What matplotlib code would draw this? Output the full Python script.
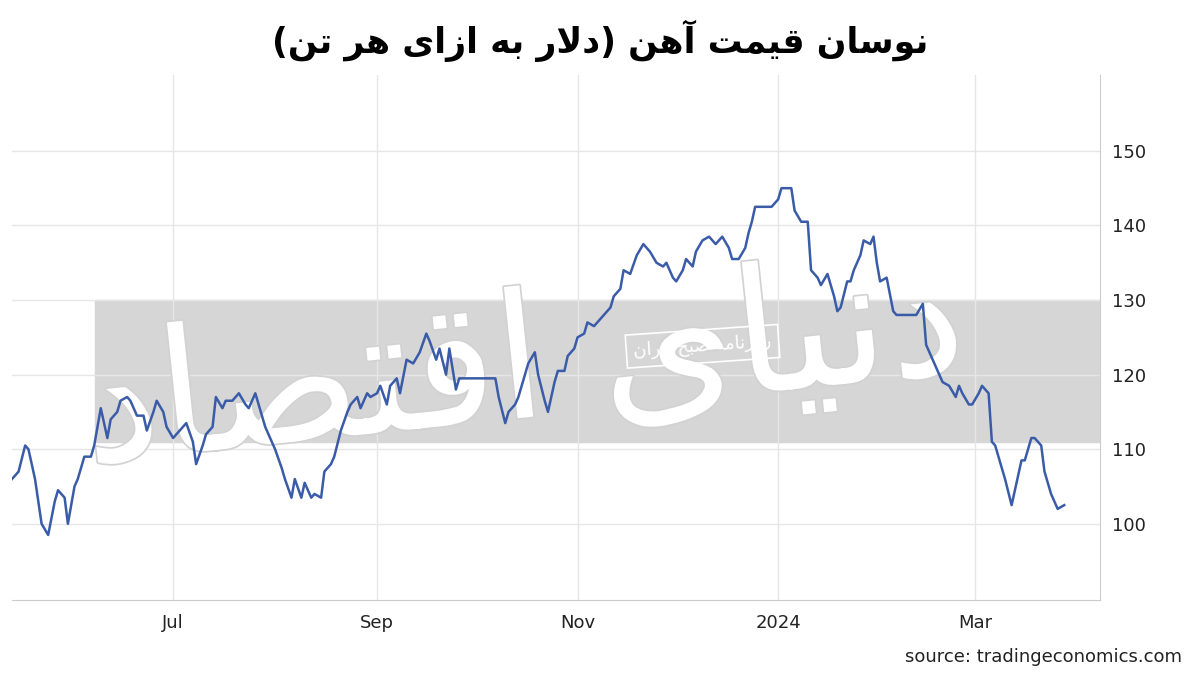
import datetime as dt
import matplotlib

matplotlib.use("Agg")
import matplotlib.pyplot as plt
import matplotlib.patheffects as pe

# iron ore price, USD per tonne
start_date = dt.date(2023, 5, 13)
day_offsets = [
    0, 2, 4, 5, 7, 9, 11, 13, 14, 16, 17, 19, 20, 22, 24, 25, 27, 29, 30, 32, 33, 35, 36, 38, 40,
    41, 43, 44, 46, 47, 49, 51, 53, 55, 56, 58, 59, 61, 62, 64, 65, 67, 69, 71, 72, 74, 76, 77, 80,
    82, 83, 85, 86, 88, 89, 91, 92, 94, 95, 97, 98, 100, 102, 103, 105, 106, 108, 109, 111, 112,
    114, 115, 117, 118, 120, 122, 124, 126, 127, 129, 130, 132, 133, 135, 136, 138, 141, 144, 147,
    148, 150, 151, 153, 154, 156, 157, 159, 160, 162, 163, 165, 166, 168, 169, 171, 172, 174, 175,
    177, 178, 180, 182, 183, 185, 186, 188, 190, 192, 194, 196, 198, 199, 201, 202, 204, 205, 207,
    208, 210, 212, 214, 216, 218, 219, 221, 223, 224, 225, 226, 228, 229, 231, 233, 234, 237, 238,
    240, 242, 243, 245, 246, 248, 250, 251, 252, 254, 255, 256, 258, 259, 261, 262, 263, 264, 266,
    268, 269, 271, 273, 275, 277, 278, 280, 281, 283, 285, 287, 288, 289, 291, 292, 294, 295, 297,
    298, 299, 301, 302, 304, 305, 307, 308, 310, 311, 313, 314, 315, 316, 318, 320,
]
prices = [
    106, 107, 110.5, 110, 106, 100, 98.5, 103, 104.5, 103.5, 100, 105, 106, 109, 109, 110.5, 115.5,
    111.5, 114, 115, 116.5, 117, 116.5, 114.5, 114.5, 112.5, 115, 116.5, 115, 113, 111.5, 112.5,
    113.5, 111, 108, 110.5, 112, 113, 117, 115.5, 116.5, 116.5, 117.5, 116, 115.5, 117.5, 114.5,
    113, 110, 107.5, 106, 103.5, 106, 103.5, 105.5, 103.5, 104, 103.5, 107, 108, 109, 112.5, 115,
    116, 117, 115.5, 117.5, 117, 117.5, 118.5, 116, 118.5, 119.5, 117.5, 122, 121.5, 123, 125.5,
    124.5, 122, 123.5, 120, 123.5, 118, 119.5, 119.5, 119.5, 119.5, 119.5, 117, 113.5, 115, 116,
    117, 120, 121.5, 123, 120, 116.5, 115, 119, 120.5, 120.5, 122.5, 123.5, 125, 125.5, 127,
    126.5, 127, 128, 129, 130.5, 131.5, 134, 133.5, 136, 137.5, 136.5, 135, 134.5, 135, 133,
    132.5, 134, 135.5, 134.5, 136.5, 138, 138.5, 137.5, 138.5, 137, 135.5, 135.5, 137, 139,
    140.5, 142.5, 142.5, 142.5, 142.5, 143.5, 145, 145, 142, 140.5, 140.5, 134, 133, 132, 133.5,
    130.5, 128.5, 129, 132.5, 132.5, 134, 136, 138, 137.5, 138.5, 135, 132.5, 133, 128.5, 128,
    128, 128, 128, 129.5, 124, 122, 121, 119, 118.5, 117, 118.5, 117.5, 116, 116, 117.5, 118.5,
    117.5, 111, 110.5, 107.5, 106, 102.5, 104.5, 108.5, 108.5, 111.5, 111.5, 110.5, 107, 105.5,
    104, 102, 102.5,
]
dates = [start_date + dt.timedelta(days=d) for d in day_offsets]
y_ticks = [100, 110, 120, 130, 140, 150]
x_ticks = [dt.date(2023, 7, 1), dt.date(2023, 9, 1), dt.date(2023, 11, 1),
           dt.date(2024, 1, 1), dt.date(2024, 3, 1)]
x_labels = ["Jul", "Sep", "Nov", "2024", "Mar"]

title_text = "نوسان قیمت آهن (دلار به ازای هر تن)"
stamp_text = "روزنامه صبح ایران"
logo_text = "دنیای اقتصاد"

# minimal Persian shaping (isolated, final, initial, medial)
FORMS = {
    "ا": ("\uFE8D", "\uFE8E", None, None), "آ": ("\uFE81", "\uFE82", None, None),
    "ب": ("\uFE8F", "\uFE90", "\uFE91", "\uFE92"), "ت": ("\uFE95", "\uFE96", "\uFE97", "\uFE98"),
    "ح": ("\uFEA1", "\uFEA2", "\uFEA3", "\uFEA4"), "د": ("\uFEA9", "\uFEAA", None, None),
    "ر": ("\uFEAD", "\uFEAE", None, None), "ز": ("\uFEAF", "\uFEB0", None, None),
    "س": ("\uFEB1", "\uFEB2", "\uFEB3", "\uFEB4"), "ص": ("\uFEB9", "\uFEBA", "\uFEBB", "\uFEBC"),
    "ق": ("\uFED5", "\uFED6", "\uFED7", "\uFED8"), "ل": ("\uFEDD", "\uFEDE", "\uFEDF", "\uFEE0"),
    "م": ("\uFEE1", "\uFEE2", "\uFEE3", "\uFEE4"), "ن": ("\uFEE5", "\uFEE6", "\uFEE7", "\uFEE8"),
    "ه": ("\uFEE9", "\uFEEA", "\uFEEB", "\uFEEC"), "و": ("\uFEED", "\uFEEE", None, None),
    "ی": ("\uFEEF", "\uFEF0", "\uFEF3", "\uFEF4"),
}


def shape(text):
    out = []
    n = len(text)
    i = 0
    while i < n:
        c = text[i]
        if c not in FORMS:
            out.append({"(": ")", ")": "("}.get(c, c))
            i += 1
            continue
        prev = text[i - 1] if i > 0 else ""
        prev_joins = prev in FORMS and FORMS[prev][2] is not None
        if c == "ل" and i + 1 < n and text[i + 1] == "ا":
            out.append("\uFEFC" if prev_joins else "\uFEFB")
            i += 2
            continue
        nxt = text[i + 1] if i + 1 < n else ""
        next_joins = nxt in FORMS and FORMS[c][2] is not None
        iso, fin, ini, med = FORMS[c]
        if prev_joins and next_joins:
            out.append(med)
        elif prev_joins:
            out.append(fin)
        elif next_joins:
            out.append(ini)
        else:
            out.append(iso)
        i += 1
    return "".join(reversed(out))


fig = plt.figure(figsize=(12, 6.74), dpi=100)
ax = fig.add_axes([0.01, 0.11, 0.907, 0.779])

ax.set_xlim(dt.date(2023, 5, 13), dt.date(2024, 4, 8))
ax.set_ylim(89.8, 160.2)

# watermark band and logo
ax.axhspan(111, 130, xmin=0.076, xmax=1.0, color="#d6d6d6", zorder=0)
ax.text(0.47, 0.44, shape(logo_text), transform=ax.transAxes, fontsize=125,
        color="white", ha="center", va="center", rotation=6, zorder=1,
        path_effects=[pe.withStroke(linewidth=2.5, foreground="#d2d2d2")])
ax.text(dt.date(2023, 12, 9), 123.8, shape(stamp_text), fontsize=13, color="white",
        ha="center", va="center", rotation=4, zorder=1,
        bbox=dict(boxstyle="square,pad=0.4", fc="none", ec="white", lw=1.2))

ax.plot(dates, prices, color="#3a5ca8", linewidth=1.8, zorder=3)

ax.set_yticks(y_ticks)
ax.set_xticks(x_ticks)
ax.set_xticklabels(x_labels)
ax.yaxis.tick_right()
ax.tick_params(axis="both", length=0, labelsize=13, colors="#222222")
ax.tick_params(axis="y", pad=8)
ax.tick_params(axis="x", pad=10)
ax.grid(True, color="#e6e6e6", linewidth=1)
ax.set_axisbelow(True)
for side in ["top", "left"]:
    ax.spines[side].set_visible(False)
ax.spines["right"].set_color("#cccccc")
ax.spines["bottom"].set_color("#cccccc")

fig.text(0.5, 0.94, shape(title_text), ha="center", va="center", fontsize=25,
         fontweight="bold", family=["DejaVu Sans"])
fig.text(0.985, 0.025, "source: tradingeconomics.com", ha="right", va="center",
         fontsize=13, color="#222222")

fig.savefig("out.png", dpi=100)
